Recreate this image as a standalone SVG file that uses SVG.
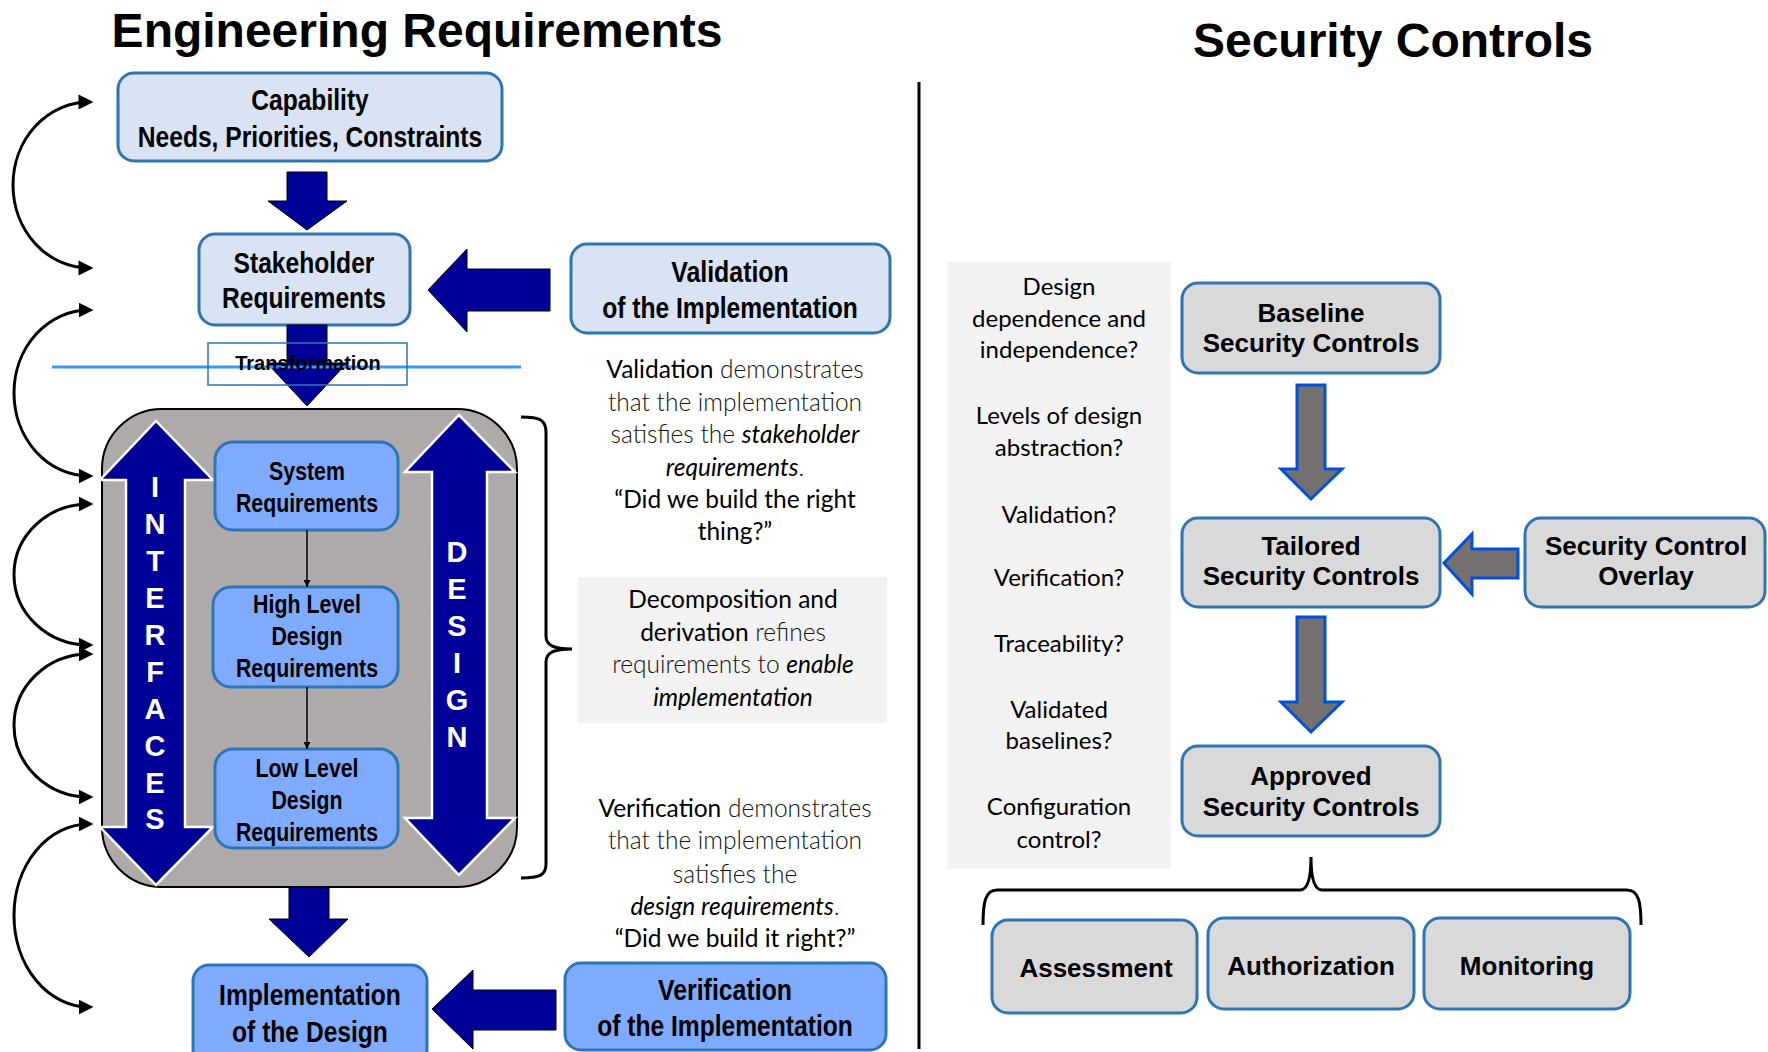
<svg xmlns="http://www.w3.org/2000/svg" width="1768" height="1052" viewBox="0 0 1768 1052">
<style>
.title{font-family:"Liberation Sans",Arial,sans-serif;font-weight:bold;font-size:48px;text-anchor:middle;fill:#000}
.nar{font-family:"Liberation Sans Narrow","Liberation Sans",Arial,sans-serif;font-weight:bold;font-size:30px;text-anchor:middle;fill:#000}
.nar26{font-size:26px}
.ar{font-family:"Liberation Sans",Arial,sans-serif;font-weight:bold;font-size:26px;text-anchor:middle;fill:#000}
.vl{font-family:"Liberation Sans",Arial,sans-serif;font-weight:bold;font-size:29px;text-anchor:middle;fill:#fff}
.cal{font-family:Lato,"Open Sans",sans-serif;font-size:24px;text-anchor:middle;fill:#000}
.p{font-size:24.5px}
.lt{font-weight:300;fill:#111}
.it{font-style:italic}
.bl{fill:#dae3f3;stroke:#2e75b6;stroke-width:3}
.mb{fill:#7fabff;stroke:#2e75b6;stroke-width:3}
.gb{fill:#d9d9d9;stroke:#2e75b6;stroke-width:3}
.navy{fill:#000099;stroke:#000;stroke-width:1}
.garr{fill:#767171;stroke:#0050dc;stroke-width:3}
.arc{fill:none;stroke:#000;stroke-width:3;marker-start:url(#ah);marker-end:url(#ah)}
.br{fill:none;stroke:#000;stroke-width:3}
</style>
<defs>
<marker id="ah" viewBox="0 0 10 10" refX="7" refY="5" markerWidth="5" markerHeight="5" orient="auto-start-reverse"><path d="M0,0 L10,5 L0,10 z" fill="#000"/></marker>
<marker id="sm" viewBox="0 0 10 10" refX="10" refY="5" markerWidth="7" markerHeight="7" markerUnits="userSpaceOnUse" orient="auto"><path d="M0,0 L10,5 L0,10 z" fill="#000"/></marker>
</defs>
<rect width="1768" height="1052" fill="#fff"/>

<g id="titles">
<text class="title" x="417" y="47">Engineering Requirements</text>
<text class="title" x="1393" y="57">Security Controls</text>
</g>

<g id="node-capability">
<rect class="bl" x="118" y="73" width="384" height="88" rx="16"/>
<text class="nar" x="310" y="110" textLength="117.6" lengthAdjust="spacingAndGlyphs">Capability</text>
<text class="nar" x="310" y="147" textLength="344.5" lengthAdjust="spacingAndGlyphs">Needs, Priorities, Constraints</text>
</g>

<g id="node-stakeholder">
<rect class="bl" x="199" y="234" width="211" height="91" rx="16"/>
<text class="nar" x="304" y="273" textLength="140.8" lengthAdjust="spacingAndGlyphs">Stakeholder</text>
<text class="nar" x="304" y="308" textLength="164" lengthAdjust="spacingAndGlyphs">Requirements</text>
</g>

<g id="node-validation">
<rect class="bl" x="571" y="244" width="319" height="89" rx="16"/>
<text class="nar" x="730" y="282" textLength="117.6" lengthAdjust="spacingAndGlyphs">Validation</text>
<text class="nar" x="730" y="318" textLength="255.6" lengthAdjust="spacingAndGlyphs">of the Implementation</text>
</g>

<g id="node-container">
<rect x="102" y="409" width="415" height="478" rx="60" fill="#aeaaaa" stroke="#000" stroke-width="2"/>
<polygon points="156,421 213,480 185,480 185,827 213,827 156,885 100,827 126,827 126,480 100,480" fill="#000099" stroke="#fff" stroke-width="2.5"/>
<polygon points="459,415 515,472 487,472 487,818 515,818 459,875 405,818 432,818 432,472 405,472" fill="#000099" stroke="#fff" stroke-width="2.5"/>
<g class="vl">
<text x="155" y="497">I</text><text x="155" y="534">N</text><text x="155" y="571">T</text><text x="155" y="608">E</text><text x="155" y="645">R</text><text x="155" y="682">F</text><text x="155" y="719">A</text><text x="155" y="756">C</text><text x="155" y="793">E</text><text x="155" y="829">S</text>
<text x="457" y="562">D</text><text x="457" y="599">E</text><text x="457" y="636">S</text><text x="457" y="673">I</text><text x="457" y="710">G</text><text x="457" y="747">N</text>
</g>
</g>

<g id="node-system">
<rect class="mb" x="215" y="442" width="183" height="88" rx="18"/>
<text class="nar nar26" x="307" y="480" textLength="75.8" lengthAdjust="spacingAndGlyphs">System</text>
<text class="nar nar26" x="307" y="512" textLength="142.2" lengthAdjust="spacingAndGlyphs">Requirements</text>
</g>
<g id="node-hld">
<rect class="mb" x="213" y="587" width="185" height="100" rx="18"/>
<text class="nar nar26" x="307" y="613" textLength="107.8" lengthAdjust="spacingAndGlyphs">High Level</text>
<text class="nar nar26" x="307" y="645" textLength="71.1" lengthAdjust="spacingAndGlyphs">Design</text>
<text class="nar nar26" x="307" y="677" textLength="142.2" lengthAdjust="spacingAndGlyphs">Requirements</text>
</g>
<g id="node-lld">
<rect class="mb" x="215" y="749" width="183" height="99" rx="18"/>
<text class="nar nar26" x="307" y="777" textLength="103.1" lengthAdjust="spacingAndGlyphs">Low Level</text>
<text class="nar nar26" x="307" y="809" textLength="71.1" lengthAdjust="spacingAndGlyphs">Design</text>
<text class="nar nar26" x="307" y="841" textLength="142.2" lengthAdjust="spacingAndGlyphs">Requirements</text>
</g>

<g id="node-implementation">
<rect class="mb" x="193" y="965" width="234" height="100" rx="16"/>
<text class="nar" x="310" y="1005" textLength="181.8" lengthAdjust="spacingAndGlyphs">Implementation</text>
<text class="nar" x="310" y="1042" textLength="155.8" lengthAdjust="spacingAndGlyphs">of the Design</text>
</g>

<g id="node-verification">
<rect class="mb" x="565" y="963" width="321" height="87" rx="16"/>
<text class="nar" x="725" y="1000" textLength="134" lengthAdjust="spacingAndGlyphs">Verification</text>
<text class="nar" x="725" y="1036" textLength="255.6" lengthAdjust="spacingAndGlyphs">of the Implementation</text>
</g>

<g id="note-validation" class="cal p">
<text x="735" y="378">Validation<tspan class="lt"> demonstrates</tspan></text>
<text x="735" y="411" class="lt">that the implementation</text>
<text x="735" y="443"><tspan class="lt">satisfies the </tspan><tspan class="it">stakeholder</tspan></text>
<text x="735" y="476"><tspan class="it">requirements</tspan><tspan class="lt">.</tspan></text>
<text x="735" y="508">“Did we build the right</text>
<text x="735" y="540">thing?”</text>
</g>

<g id="note-decomposition">
<rect x="578" y="577" width="309" height="146" fill="#f2f2f2"/>
<g class="cal p">
<text x="733" y="608">Decomposition and</text>
<text x="733" y="641">derivation<tspan class="lt"> refines</tspan></text>
<text x="733" y="673"><tspan class="lt">requirements to </tspan><tspan class="it">enable</tspan></text>
<text x="733" y="706" class="it">implementation</text>
</g>
</g>

<g id="note-verification" class="cal p">
<text x="735" y="817">Verification<tspan class="lt"> demonstrates</tspan></text>
<text x="735" y="849" class="lt">that the implementation</text>
<text x="735" y="883" class="lt">satisfies the</text>
<text x="735" y="915"><tspan class="it">design requirements</tspan><tspan class="lt">.</tspan></text>
<text x="735" y="947">“Did we build it right?”</text>
</g>

<g id="node-questions">
<rect x="947" y="262" width="224" height="607" fill="#f2f2f2"/>
<g class="cal">
<text x="1059" y="295">Design</text>
<text x="1059" y="327">dependence and</text>
<text x="1059" y="358">independence?</text>
<text x="1059" y="424">Levels of design</text>
<text x="1059" y="456">abstraction?</text>
<text x="1059" y="523">Validation?</text>
<text x="1059" y="586">Verification?</text>
<text x="1059" y="652">Traceability?</text>
<text x="1059" y="718">Validated</text>
<text x="1059" y="749">baselines?</text>
<text x="1059" y="815">Configuration</text>
<text x="1059" y="848">control?</text>
</g>
</g>

<g id="node-baseline">
<rect class="gb" x="1182" y="283" width="258" height="90" rx="16"/>
<text class="ar" x="1311" y="322">Baseline</text>
<text class="ar" x="1311" y="352">Security Controls</text>
</g>
<g id="node-tailored">
<rect class="gb" x="1182" y="518" width="258" height="89" rx="16"/>
<text class="ar" x="1311" y="555">Tailored</text>
<text class="ar" x="1311" y="585">Security Controls</text>
</g>
<g id="node-overlay">
<rect class="gb" x="1525" y="518" width="240" height="89" rx="16"/>
<text class="ar" x="1646" y="555">Security Control</text>
<text class="ar" x="1646" y="585">Overlay</text>
</g>
<g id="node-approved">
<rect class="gb" x="1182" y="746" width="258" height="90" rx="16"/>
<text class="ar" x="1311" y="785">Approved</text>
<text class="ar" x="1311" y="816">Security Controls</text>
</g>
<g id="node-assessment">
<rect class="gb" x="992" y="920" width="205" height="93" rx="16"/>
<text class="ar" x="1096" y="977">Assessment</text>
</g>
<g id="node-authorization">
<rect class="gb" x="1208" y="918" width="206" height="91" rx="16"/>
<text class="ar" x="1311" y="975">Authorization</text>
</g>
<g id="node-monitoring">
<rect class="gb" x="1424" y="918" width="206" height="91" rx="16"/>
<text class="ar" x="1527" y="975">Monitoring</text>
</g>

<g id="connectors">
<polygon class="navy" points="287,172 327,172 327,201 347,201 307,230 268,201 287,201"/>
<polygon class="navy" points="287,325 327,325 327,363 347,363 307,406 267,363 287,363"/>
<polygon class="navy" points="289,887 329,887 329,919 348,919 309,957 269,919 289,919"/>
<polygon class="navy" points="428,290 467,249 467,269 550,269 550,311 467,311 467,332"/>
<polygon class="navy" points="432,1009 473,970 473,990 556,990 556,1030 473,1030 473,1049"/>
<path class="arc" d="M89,102 A76,83 0 0 0 89,268"/>
<path class="arc" d="M89,310 A75,83 0 0 0 89,476"/>
<path class="arc" d="M89,504 A75,70.5 0 0 0 89,645"/>
<path class="arc" d="M89,654 A75,71.5 0 0 0 89,797"/>
<path class="arc" d="M89,824 A75,91.5 0 0 0 89,1007"/>
<line x1="307" y1="530" x2="307" y2="587" stroke="#000" stroke-width="1.5" marker-end="url(#sm)"/>
<line x1="307" y1="687" x2="307" y2="749" stroke="#000" stroke-width="1.5" marker-end="url(#sm)"/>
<path class="br" d="M521,417 C540,417 546,420 546,432 L546,636 C546,645 553,649 572,649 C553,649 546,653 546,662 L546,864 C546,875 540,878 521,878"/>
<polygon class="garr" points="1297,385 1325,385 1325,469 1342,469 1311,499 1281,469 1297,469"/>
<polygon class="garr" points="1297,617 1325,617 1325,702 1342,702 1311,732 1281,702 1297,702"/>
<polygon class="garr" points="1444,563 1472,534 1472,549 1518,549 1518,578 1472,578 1472,594"/>
<path class="br" d="M983,925 C983,903 985,890 997,890 L1300,890 C1307,890 1311,880 1311,857 C1311,880 1315,890 1322,890 L1627,890 C1639,890 1641,903 1641,925"/>
<line x1="919" y1="82" x2="919" y2="1049" stroke="#000" stroke-width="3"/>
</g>

<g id="node-transformation">
<line x1="52" y1="367" x2="521" y2="367" stroke="#3399ff" stroke-width="3"/>
<rect x="208" y="343" width="199" height="42" fill="none" stroke="#2e75b6" stroke-width="1.5"/>
<text x="308" y="370" font-family="Liberation Sans, Arial, sans-serif" font-weight="bold" font-size="20" text-anchor="middle">Transformation</text>
</g>
</svg>
